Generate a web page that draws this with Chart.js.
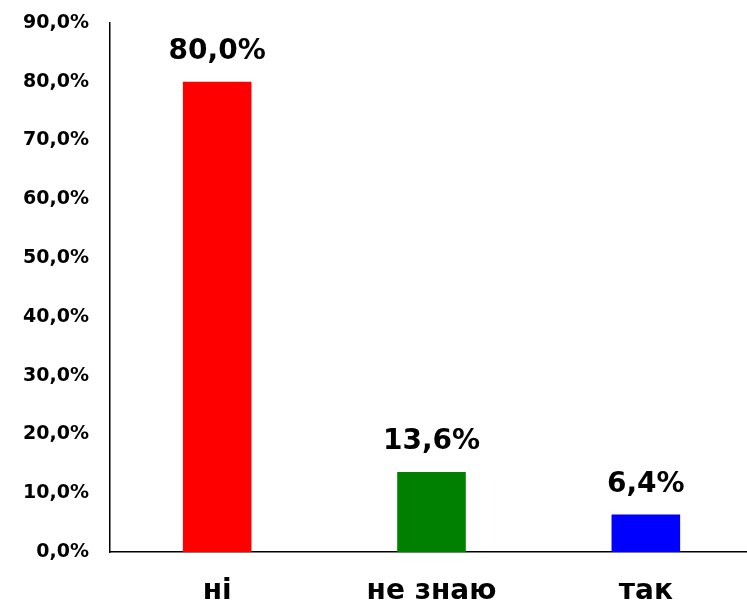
<!DOCTYPE html>
<html lang="uk">
<head>
  <meta charset="UTF-8">
  <title>Chart</title>
  <script src="https://cdn.jsdelivr.net/npm/chart.js"></script>
  <style>
    html, body { margin: 0; padding: 0; background: #fff; }
    .wrap { width: 747px; height: 603px; overflow: hidden; }
  </style>
</head>
<body>
  <div class="wrap"><canvas id="chart" width="753" height="603"></canvas></div>
  <script>
    const categories = ['ні', 'не знаю', 'так'];
    const values = [80.0, 13.6, 6.4];
    const barColors = ['#ff0000', '#008000', '#0000ff'];
    const yTicks = [0, 10, 20, 30, 40, 50, 60, 70, 80, 90];

    const fontFamily = '"DejaVu Sans", Arial, sans-serif';
    const fmt = v => v.toFixed(1).replace('.', ',') + '%';

    // подписи значений над столбцами
    const valueLabels = {
      id: 'valueLabels',
      afterDatasetsDraw(chart) {
        const ctx = chart.ctx;
        const meta = chart.getDatasetMeta(0);
        ctx.save();
        ctx.font = 'bold 28px ' + fontFamily;
        ctx.fillStyle = '#000';
        ctx.textAlign = 'center';
        ctx.textBaseline = 'middle';
        meta.data.forEach((bar, i) => {
          ctx.fillText(fmt(values[i]), bar.x, bar.y - 30);
        });
        ctx.restore();
      }
    };

    new Chart(document.getElementById('chart').getContext('2d'), {
      type: 'bar',
      data: {
        labels: categories,
        datasets: [{
          data: values,
          backgroundColor: barColors,
          categoryPercentage: 1,
          barPercentage: 0.32
        }]
      },
      options: {
        responsive: false,
        animation: false,
        layout: { padding: { top: 23, right: 0, left: 0, bottom: 0 } },
        plugins: { legend: { display: false }, tooltip: { enabled: false } },
        scales: {
          y: {
            min: 0,
            max: 90,
            afterBuildTicks: axis => { axis.ticks = yTicks.map(v => ({ value: v })); },
            afterFit: axis => {
              axis.width = 110;
              axis.paddingTop = 0;
              axis.paddingBottom = 0;
            },
            grid: { display: false, drawTicks: false },
            border: { display: true, color: '#000', width: 1.5 },
            ticks: {
              padding: 21,
              color: '#000',
              font: { family: fontFamily, size: 19, weight: 'bold' },
              callback: v => fmt(v)
            }
          },
          x: {
            afterFit: axis => {
              axis.height = 51;
              axis.paddingLeft = 0;
              axis.paddingRight = 0;
            },
            grid: { display: false, drawTicks: false },
            border: { display: true, color: '#000', width: 1.5 },
            ticks: {
              padding: 23,
              color: '#000',
              font: { family: fontFamily, size: 28, weight: 'bold' }
            }
          }
        }
      },
      plugins: [valueLabels]
    });
  </script>
</body>
</html>
